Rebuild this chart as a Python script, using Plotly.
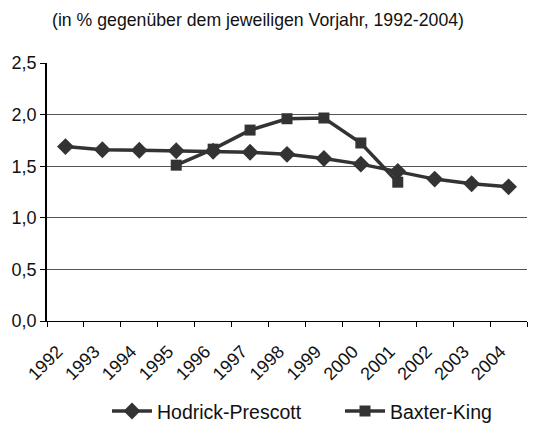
import plotly.graph_objects as go

years = [str(y) for y in range(1992, 2005)]
hodrick_prescott = [1.69, 1.66, 1.655, 1.65, 1.645, 1.635, 1.615, 1.575, 1.52, 1.45, 1.375, 1.33, 1.30]
baxter_king = [None, None, None, 1.51, 1.665, 1.85, 1.96, 1.967, 1.725, 1.345, None, None, None]

title_text = "(in % gegenüber dem jeweiligen Vorjahr, 1992-2004)"
FONT = "Liberation Sans, Arial, Helvetica, sans-serif"
DARK = "#333333"

fig = go.Figure()
fig.add_trace(go.Scatter(
    x=years, y=hodrick_prescott, name="Hodrick-Prescott", mode="lines+markers",
    line=dict(color=DARK, width=3.5),
    marker=dict(symbol="diamond", size=13, color=DARK),
))
fig.add_trace(go.Scatter(
    x=years, y=baxter_king, name="Baxter-King", mode="lines+markers",
    line=dict(color=DARK, width=3.5),
    marker=dict(symbol="square", size=11, color=DARK),
))

# page body adds an 8px offset; margins compensate for it
fig.update_layout(
    width=547, height=433,
    margin=dict(l=39, r=28, t=55, b=120, autoexpand=False),
    paper_bgcolor="white", plot_bgcolor="white",
    font=dict(family=FONT, size=18, color="#111111"),
    separators=",.",
    showlegend=True,
    legend=dict(orientation="h", x=0.125, xanchor="left", y=-0.35, yanchor="middle",
                font=dict(size=19.5), itemwidth=40, entrywidth=178, traceorder="normal"),
    annotations=[dict(text=title_text, xref="paper", yref="paper", x=(258 - 8 - 39) / 480,
                      xanchor="center", y=(313 - 12) / 258, yanchor="middle", showarrow=False,
                      font=dict(size=17.7, family=FONT, color="#111111"))],
)
fig.update_xaxes(
    type="category", tickangle=-45, tickson="boundaries", ticks="outside", ticklen=5,
    tickcolor="black", showline=True, linecolor="black", linewidth=1, showgrid=False,
    range=[-0.5, 12.5], tickfont=dict(size=18, family=FONT), automargin=False,
    ticklabelshift=-8, ticklabelstandoff=12,
)
fig.update_yaxes(
    range=[0, 2.5], dtick=0.5, tickformat=".1f", ticks="outside", ticklen=5, tickcolor="black",
    showline=True, linecolor="black", linewidth=1.5, showgrid=True, gridcolor="#555555",
    gridwidth=1, zeroline=False, tickfont=dict(size=18, family=FONT), automargin=False,
)

fig.write_html("out.html")
